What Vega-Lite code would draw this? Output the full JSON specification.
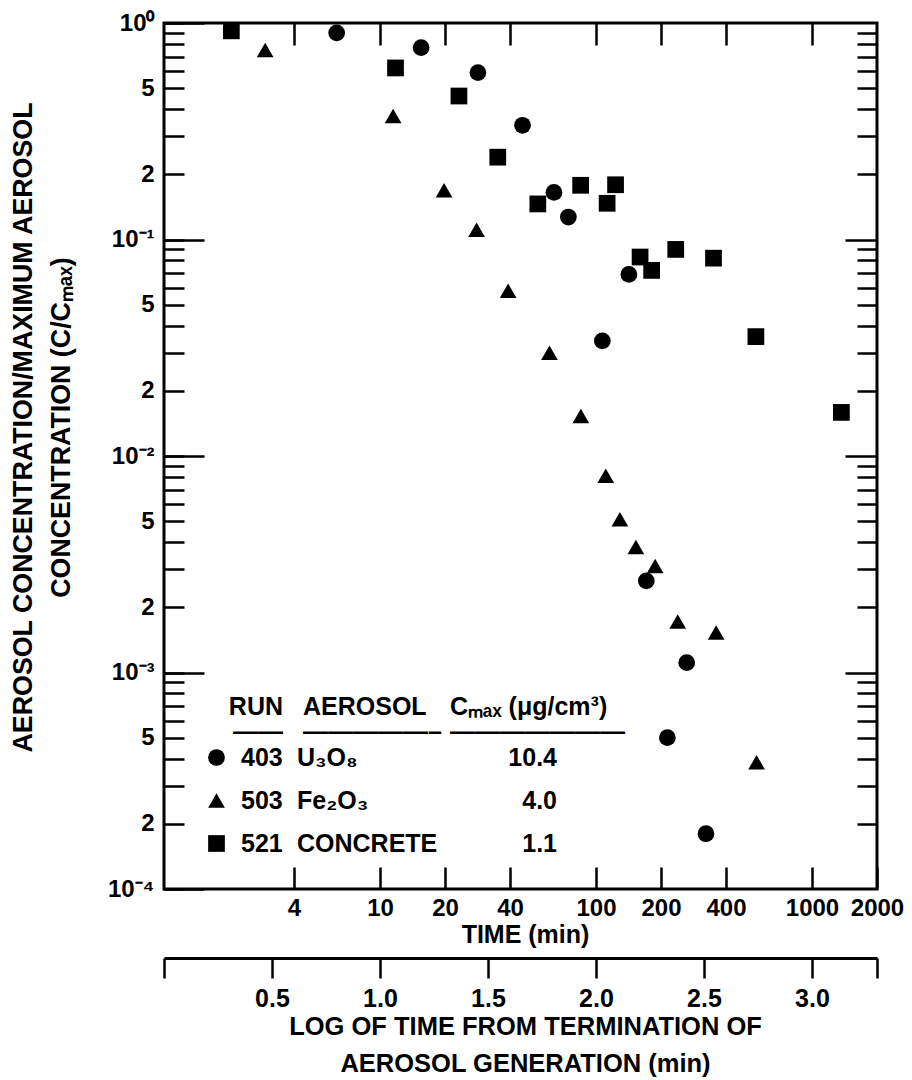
{
  "$schema": "https://vega.github.io/schema/vega-lite/v6.json",
  "width": 713,
  "height": 866,
  "autosize": {"type": "none"},
  "padding": {"left": 164, "top": 23, "right": 35, "bottom": 191},
  "background": "white",
  "config": {
    "view": {"stroke": "black", "strokeWidth": 3},
    "font": "Liberation Sans",
    "mark": {"color": "black"},
    "axis": {
      "labelFont": "Liberation Sans", "labelFontWeight": "bold", "labelColor": "black",
      "titleFont": "Liberation Sans", "titleFontWeight": "bold", "titleColor": "black",
      "tickColor": "black", "tickWidth": 2.5, "domainColor": "black", "domainWidth": 3,
      "grid": false, "labelOverlap": false, "labelFlush": false, "labelBound": false
    },
    "legend": {
      "labelFont": "Liberation Sans", "labelFontWeight": "bold", "labelColor": "black", "labelFontSize": 25,
      "titleFont": "Liberation Sans", "titleFontWeight": "bold", "titleColor": "black", "titleFontSize": 25,
      "titleLineHeight": 25, "titlePadding": 0, "rowPadding": 17, "padding": 0, "labelLimit": 300, "titleLimit": 400
    }
  },
  "datasets": {
    "runs": [
      {"run": "403", "aerosol": "U₃O₈", "cmax": "10.4", "time": 6.3, "conc": 0.90},
      {"run": "403", "aerosol": "U₃O₈", "cmax": "10.4", "time": 15.5, "conc": 0.77},
      {"run": "403", "aerosol": "U₃O₈", "cmax": "10.4", "time": 28.4, "conc": 0.59},
      {"run": "403", "aerosol": "U₃O₈", "cmax": "10.4", "time": 45.7, "conc": 0.337},
      {"run": "403", "aerosol": "U₃O₈", "cmax": "10.4", "time": 63.9, "conc": 0.165},
      {"run": "403", "aerosol": "U₃O₈", "cmax": "10.4", "time": 74.5, "conc": 0.127},
      {"run": "403", "aerosol": "U₃O₈", "cmax": "10.4", "time": 142, "conc": 0.069},
      {"run": "403", "aerosol": "U₃O₈", "cmax": "10.4", "time": 107, "conc": 0.034},
      {"run": "403", "aerosol": "U₃O₈", "cmax": "10.4", "time": 171, "conc": 0.00265},
      {"run": "403", "aerosol": "U₃O₈", "cmax": "10.4", "time": 263, "conc": 0.00111},
      {"run": "403", "aerosol": "U₃O₈", "cmax": "10.4", "time": 214, "conc": 0.00050},
      {"run": "403", "aerosol": "U₃O₈", "cmax": "10.4", "time": 323, "conc": 0.00018},
      {"run": "503", "aerosol": "Fe₂O₃", "cmax": "4.0", "time": 2.94, "conc": 0.75},
      {"run": "503", "aerosol": "Fe₂O₃", "cmax": "4.0", "time": 11.5, "conc": 0.372},
      {"run": "503", "aerosol": "Fe₂O₃", "cmax": "4.0", "time": 19.8, "conc": 0.169},
      {"run": "503", "aerosol": "Fe₂O₃", "cmax": "4.0", "time": 28.0, "conc": 0.111},
      {"run": "503", "aerosol": "Fe₂O₃", "cmax": "4.0", "time": 39.2, "conc": 0.058},
      {"run": "503", "aerosol": "Fe₂O₃", "cmax": "4.0", "time": 60.9, "conc": 0.030},
      {"run": "503", "aerosol": "Fe₂O₃", "cmax": "4.0", "time": 85.1, "conc": 0.0153},
      {"run": "503", "aerosol": "Fe₂O₃", "cmax": "4.0", "time": 111, "conc": 0.0081},
      {"run": "503", "aerosol": "Fe₂O₃", "cmax": "4.0", "time": 129, "conc": 0.0051},
      {"run": "503", "aerosol": "Fe₂O₃", "cmax": "4.0", "time": 153, "conc": 0.0038},
      {"run": "503", "aerosol": "Fe₂O₃", "cmax": "4.0", "time": 188, "conc": 0.0031},
      {"run": "503", "aerosol": "Fe₂O₃", "cmax": "4.0", "time": 239, "conc": 0.00172},
      {"run": "503", "aerosol": "Fe₂O₃", "cmax": "4.0", "time": 360, "conc": 0.00153},
      {"run": "503", "aerosol": "Fe₂O₃", "cmax": "4.0", "time": 554, "conc": 0.000385},
      {"run": "521", "aerosol": "CONCRETE", "cmax": "1.1", "time": 2.05, "conc": 0.92},
      {"run": "521", "aerosol": "CONCRETE", "cmax": "1.1", "time": 11.8, "conc": 0.62},
      {"run": "521", "aerosol": "CONCRETE", "cmax": "1.1", "time": 23.2, "conc": 0.46},
      {"run": "521", "aerosol": "CONCRETE", "cmax": "1.1", "time": 35.1, "conc": 0.24},
      {"run": "521", "aerosol": "CONCRETE", "cmax": "1.1", "time": 53.8, "conc": 0.146},
      {"run": "521", "aerosol": "CONCRETE", "cmax": "1.1", "time": 84.9, "conc": 0.178},
      {"run": "521", "aerosol": "CONCRETE", "cmax": "1.1", "time": 112.6, "conc": 0.147},
      {"run": "521", "aerosol": "CONCRETE", "cmax": "1.1", "time": 123.2, "conc": 0.179},
      {"run": "521", "aerosol": "CONCRETE", "cmax": "1.1", "time": 160, "conc": 0.083},
      {"run": "521", "aerosol": "CONCRETE", "cmax": "1.1", "time": 181, "conc": 0.072},
      {"run": "521", "aerosol": "CONCRETE", "cmax": "1.1", "time": 234, "conc": 0.090},
      {"run": "521", "aerosol": "CONCRETE", "cmax": "1.1", "time": 350, "conc": 0.082},
      {"run": "521", "aerosol": "CONCRETE", "cmax": "1.1", "time": 550, "conc": 0.0356},
      {"run": "521", "aerosol": "CONCRETE", "cmax": "1.1", "time": 1368, "conc": 0.0159}
    ]
  },
  "data": {"name": "runs"},
  "resolve": {"axis": {"x": "independent", "y": "independent"}},
  "layer": [
    {
      "mark": {"type": "point", "filled": true, "size": 280, "opacity": 1, "color": "black", "strokeWidth": 0},
      "encoding": {
        "x": {
          "field": "time", "type": "quantitative",
          "scale": {"type": "log", "domain": [1, 2000], "nice": false},
          "axis": {
            "orient": "bottom", "values": [4, 10, 20, 40, 100, 200, 400, 1000, 2000],
            "format": "d", "tickSize": -22, "labelPadding": 29, "labelFontSize": 24,
            "domain": false, "title": "TIME (min)", "titleFontSize": 25, "titlePadding": 2, "titleX": 361
          }
        },
        "y": {
          "field": "conc", "type": "quantitative",
          "scale": {"type": "log", "domain": [0.0001, 1], "nice": false},
          "axis": {
            "orient": "left",
            "values": [1, 0.9, 0.8, 0.7, 0.6, 0.5, 0.4, 0.3, 0.2, 0.1, 0.09, 0.08, 0.07, 0.06, 0.05, 0.04, 0.03, 0.02, 0.01, 0.009, 0.008, 0.007, 0.006, 0.005, 0.004, 0.003, 0.002, 0.001, 0.0009, 0.0008, 0.0007, 0.0006, 0.0005, 0.0004, 0.0003, 0.0002, 0.0001],
            "labelExpr": "datum.value == 1 ? '10⁰' : datum.value == 0.1 ? '10⁻¹' : datum.value == 0.01 ? '10⁻²' : datum.value == 0.001 ? '10⁻³' : datum.value == 0.0001 ? '10⁻⁴' : indexof([0.5, 0.05, 0.005, 0.0005], datum.value) >= 0 ? '5' : indexof([0.2, 0.02, 0.002, 0.0002], datum.value) >= 0 ? '2' : ''",
            "tickSize": -20, "labelPadding": 30, "labelFontSize": 24, "domain": false,
            "title": ["AEROSOL CONCENTRATION/MAXIMUM AEROSOL", "CONCENTRATION (C/Cₘₐₓ)"],
            "titleFontSize": 26.8, "titleLineHeight": 38, "titleBaseline": "middle",
            "titleX": -141, "titleY": 404, "titleAlign": "center"
          }
        },
        "shape": {
          "field": "run", "type": "nominal",
          "scale": {"domain": ["403", "503", "521"], "range": ["circle", "triangle-up", "square"]},
          "legend": {
            "orient": "none", "legendX": 40, "legendY": 672,
            "title": ["RUN", "——"], "titleAnchor": "end", "titleAlign": "right",
            "symbolSize": 280, "symbolFillColor": "black", "symbolStrokeWidth": 0, "symbolType": "circle",
            "labelOffset": 12
          }
        },
        "strokeDash": {
          "field": "aerosol", "type": "nominal",
          "scale": {"domain": ["U₃O₈", "Fe₂O₃", "CONCRETE"], "range": [[1, 0], [1, 0], [1, 0]]},
          "legend": {
            "orient": "none", "legendX": 139, "legendY": 672,
            "title": ["AEROSOL", "—————–"], "titleAnchor": "start", "titleAlign": "left",
            "symbolSize": 0, "symbolOpacity": 0, "symbolStrokeWidth": 0, "labelOffset": -31
          }
        },
        "fill": {
          "field": "cmax", "type": "nominal",
          "scale": {"domain": ["10.4", "4.0", "1.1"], "range": ["black", "black", "black"]},
          "legend": {
            "orient": "none", "legendX": 286, "legendY": 672,
            "title": ["Cₘₐₓ (μg/cm³)", "———————"], "titleAnchor": "start", "titleAlign": "left",
            "symbolSize": 0, "symbolOpacity": 0, "symbolStrokeWidth": 0, "labelOffset": 82, "labelAlign": "right"
          }
        }
      }
    },
    {
      "mark": {"type": "point", "opacity": 0},
      "encoding": {
        "x": {
          "field": "time", "type": "quantitative",
          "axis": {"orient": "top", "values": [4, 10, 20, 40, 100, 200, 400, 1000], "tickSize": -22, "labels": false, "domain": false, "title": null}
        },
        "y": {
          "field": "conc", "type": "quantitative",
          "axis": {"orient": "left", "values": [1, 0.1, 0.01, 0.001, 0.0001], "tickSize": -40, "labels": false, "domain": false, "title": null}
        }
      }
    },
    {
      "mark": {"type": "point", "opacity": 0},
      "encoding": {
        "x": {
          "field": "time", "type": "quantitative",
          "axis": {
            "orient": "bottom", "offset": 69,
            "values": [1, 3.16228, 10, 31.6228, 100, 316.228, 1000, 2000],
            "labelExpr": "datum.value < 1.5 || datum.value > 1500 ? '' : format(log(datum.value) / LN10, '.1f')",
            "tickSize": 20, "labelPadding": 8, "labelFontSize": 25, "domain": true,
            "title": ["LOG OF TIME FROM TERMINATION OF", "AEROSOL GENERATION (min)"],
            "titleFontSize": 25.5, "titleLineHeight": 37, "titlePadding": 3, "titleX": 361
          }
        },
        "y": {
          "field": "conc", "type": "quantitative",
          "axis": {"orient": "right", "values": [0.9, 0.8, 0.7, 0.6, 0.5, 0.4, 0.3, 0.2, 0.09, 0.08, 0.07, 0.06, 0.05, 0.04, 0.03, 0.02, 0.009, 0.008, 0.007, 0.006, 0.005, 0.004, 0.003, 0.002, 0.0009, 0.0008, 0.0007, 0.0006, 0.0005, 0.0004, 0.0003, 0.0002], "tickSize": -20, "labels": false, "domain": false, "title": null}
        }
      }
    },
    {
      "mark": {"type": "point", "opacity": 0},
      "encoding": {
        "x": {"field": "time", "type": "quantitative", "axis": null},
        "y": {
          "field": "conc", "type": "quantitative",
          "axis": {"orient": "right", "values": [0.1, 0.01, 0.001], "tickSize": -32, "labels": false, "domain": false, "title": null}
        }
      }
    }
  ]
}
